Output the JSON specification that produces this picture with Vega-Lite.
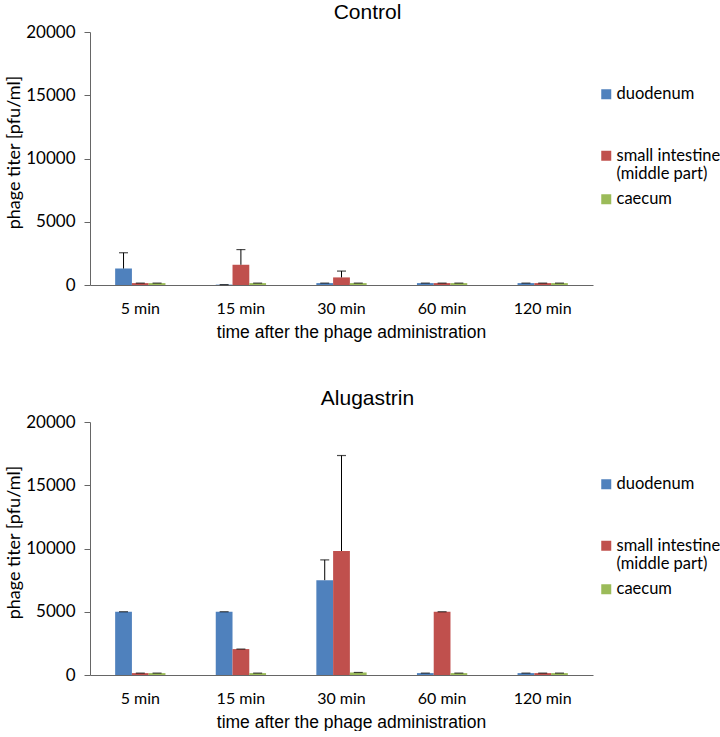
{
  "$schema": "https://vega.github.io/schema/vega-lite/v6.json",
  "padding": {"left": 5, "top": 2, "right": 0, "bottom": 0},
  "background": "white",
  "data": {"values": [
    {"panel": "Control", "time": "5 min", "site": "duodenum", "v": 1300, "hi": 2550},
    {"panel": "Control", "time": "5 min", "site": "small intestine", "v": 150, "hi": 150},
    {"panel": "Control", "time": "5 min", "site": "caecum", "v": 150, "hi": 150},
    {"panel": "Control", "time": "15 min", "site": "duodenum", "v": 30, "hi": 30},
    {"panel": "Control", "time": "15 min", "site": "small intestine", "v": 1600, "hi": 2800},
    {"panel": "Control", "time": "15 min", "site": "caecum", "v": 150, "hi": 150},
    {"panel": "Control", "time": "30 min", "site": "duodenum", "v": 150, "hi": 150},
    {"panel": "Control", "time": "30 min", "site": "small intestine", "v": 600, "hi": 1100},
    {"panel": "Control", "time": "30 min", "site": "caecum", "v": 150, "hi": 150},
    {"panel": "Control", "time": "60 min", "site": "duodenum", "v": 150, "hi": 150},
    {"panel": "Control", "time": "60 min", "site": "small intestine", "v": 150, "hi": 150},
    {"panel": "Control", "time": "60 min", "site": "caecum", "v": 150, "hi": 150},
    {"panel": "Control", "time": "120 min", "site": "duodenum", "v": 150, "hi": 150},
    {"panel": "Control", "time": "120 min", "site": "small intestine", "v": 150, "hi": 150},
    {"panel": "Control", "time": "120 min", "site": "caecum", "v": 150, "hi": 150},
    {"panel": "Alugastrin", "time": "5 min", "site": "duodenum", "v": 5000, "hi": 5000},
    {"panel": "Alugastrin", "time": "5 min", "site": "small intestine", "v": 150, "hi": 150},
    {"panel": "Alugastrin", "time": "5 min", "site": "caecum", "v": 150, "hi": 150},
    {"panel": "Alugastrin", "time": "15 min", "site": "duodenum", "v": 5000, "hi": 5000},
    {"panel": "Alugastrin", "time": "15 min", "site": "small intestine", "v": 2050, "hi": 2050},
    {"panel": "Alugastrin", "time": "15 min", "site": "caecum", "v": 150, "hi": 150},
    {"panel": "Alugastrin", "time": "30 min", "site": "duodenum", "v": 7500, "hi": 9100},
    {"panel": "Alugastrin", "time": "30 min", "site": "small intestine", "v": 9800, "hi": 17350},
    {"panel": "Alugastrin", "time": "30 min", "site": "caecum", "v": 200, "hi": 200},
    {"panel": "Alugastrin", "time": "60 min", "site": "duodenum", "v": 150, "hi": 150},
    {"panel": "Alugastrin", "time": "60 min", "site": "small intestine", "v": 5000, "hi": 5000},
    {"panel": "Alugastrin", "time": "60 min", "site": "caecum", "v": 150, "hi": 150},
    {"panel": "Alugastrin", "time": "120 min", "site": "duodenum", "v": 150, "hi": 150},
    {"panel": "Alugastrin", "time": "120 min", "site": "small intestine", "v": 150, "hi": 150},
    {"panel": "Alugastrin", "time": "120 min", "site": "caecum", "v": 150, "hi": 150}
  ]},
  "spacing": 47,
  "resolve": {"scale": {"color": "independent"}, "legend": {"color": "independent"}},
  "vconcat": [
    {
      "title": {"text": "Control", "anchor": "middle", "frame": "group", "dx": 26, "font": "Liberation Sans", "fontSize": 21, "fontWeight": "normal", "offset": 0},
      "width": 503,
      "height": 253,
      "transform": [{"filter": "datum.panel == 'Control'"}],
      "encoding": {
        "x": {"field": "time", "type": "nominal", "sort": ["5 min", "15 min", "30 min", "60 min", "120 min"],
              "scale": {"paddingInner": 0.5, "paddingOuter": 0.25},
              "axis": {"title": "time after the phage administration", "labelAngle": 0, "ticks": false, "labelPadding": 15, "titlePadding": 7, "titleX": 261}},
        "xOffset": {"field": "site", "type": "nominal", "sort": ["duodenum", "small intestine", "caecum"]}
      },
      "layer": [
        {"mark": {"type": "bar"},
         "encoding": {
           "y": {"field": "v", "type": "quantitative", "scale": {"domain": [0, 20000], "nice": false},
                 "axis": {"title": "phage titer [pfu/ml]", "values": [0, 5000, 10000, 15000, 20000], "format": "d", "titlePadding": 2, "titleY": 120}},
           "color": {"field": "site", "type": "nominal", "sort": ["duodenum", "small intestine", "caecum"],
                     "scale": {"domain": ["duodenum", "small intestine", "caecum"], "range": ["#4F81BD", "#C0504D", "#9BBB59"]},
                     "legend": {"title": null, "orient": "none", "legendX": 508, "legendY": 54,
                                "labelExpr": "datum.label == 'small intestine' ? ['small intestine', '(middle part)'] : datum.label == 'duodenum' ? ['duodenum', '', ''] : datum.label"}}
         }},
        {"mark": {"type": "rule", "color": "black", "strokeWidth": 1},
         "encoding": {"y": {"field": "v", "type": "quantitative"}, "y2": {"field": "hi"}}},
        {"mark": {"type": "tick", "color": "black", "thickness": 1.2, "size": 9},
         "encoding": {"y": {"field": "hi", "type": "quantitative"}}}
      ]
    },
    {
      "title": {"text": "Alugastrin", "anchor": "middle", "frame": "group", "dx": 26, "font": "Liberation Sans", "fontSize": 21, "fontWeight": "normal", "offset": 4},
      "width": 503,
      "height": 253,
      "transform": [{"filter": "datum.panel == 'Alugastrin'"}],
      "encoding": {
        "x": {"field": "time", "type": "nominal", "sort": ["5 min", "15 min", "30 min", "60 min", "120 min"],
              "scale": {"paddingInner": 0.5, "paddingOuter": 0.25},
              "axis": {"title": "time after the phage administration", "labelAngle": 0, "ticks": false, "labelPadding": 15, "titlePadding": 7, "titleX": 261}},
        "xOffset": {"field": "site", "type": "nominal", "sort": ["duodenum", "small intestine", "caecum"]}
      },
      "layer": [
        {"mark": {"type": "bar"},
         "encoding": {
           "y": {"field": "v", "type": "quantitative", "scale": {"domain": [0, 20000], "nice": false},
                 "axis": {"title": "phage titer [pfu/ml]", "values": [0, 5000, 10000, 15000, 20000], "format": "d", "titlePadding": 2, "titleY": 120}},
           "color": {"field": "site", "type": "nominal", "sort": ["duodenum", "small intestine", "caecum"],
                     "scale": {"domain": ["duodenum", "small intestine", "caecum"], "range": ["#4F81BD", "#C0504D", "#9BBB59"]},
                     "legend": {"title": null, "orient": "none", "legendX": 508, "legendY": 54,
                                "labelExpr": "datum.label == 'small intestine' ? ['small intestine', '(middle part)'] : datum.label == 'duodenum' ? ['duodenum', '', ''] : datum.label"}}
         }},
        {"mark": {"type": "rule", "color": "black", "strokeWidth": 1},
         "encoding": {"y": {"field": "v", "type": "quantitative"}, "y2": {"field": "hi"}}},
        {"mark": {"type": "tick", "color": "black", "thickness": 1.2, "size": 9},
         "encoding": {"y": {"field": "hi", "type": "quantitative"}}}
      ]
    }
  ],
  "config": {
    "view": {"stroke": null},
    "axis": {"grid": false, "domainColor": "#666", "tickColor": "#666", "labelFont": "Lato", "labelFontSize": 16, "labelColor": "#000",
             "titleFont": "Liberation Sans", "titleFontSize": 17.5, "titleFontWeight": "normal", "titleColor": "#000", "tickSize": 6},
    "axisY": {"titleFont": "Lato", "titleFontSize": 18, "labelPadding": 9, "labelFontSize": 17},
    "legend": {"labelFont": "Lato", "labelFontSize": 16.5, "labelColor": "#000", "symbolType": "square", "symbolSize": 100, "symbolStrokeWidth": 0, "rowPadding": 7.5, "labelOffset": 2, "gridAlign": "each"}
  }
}
